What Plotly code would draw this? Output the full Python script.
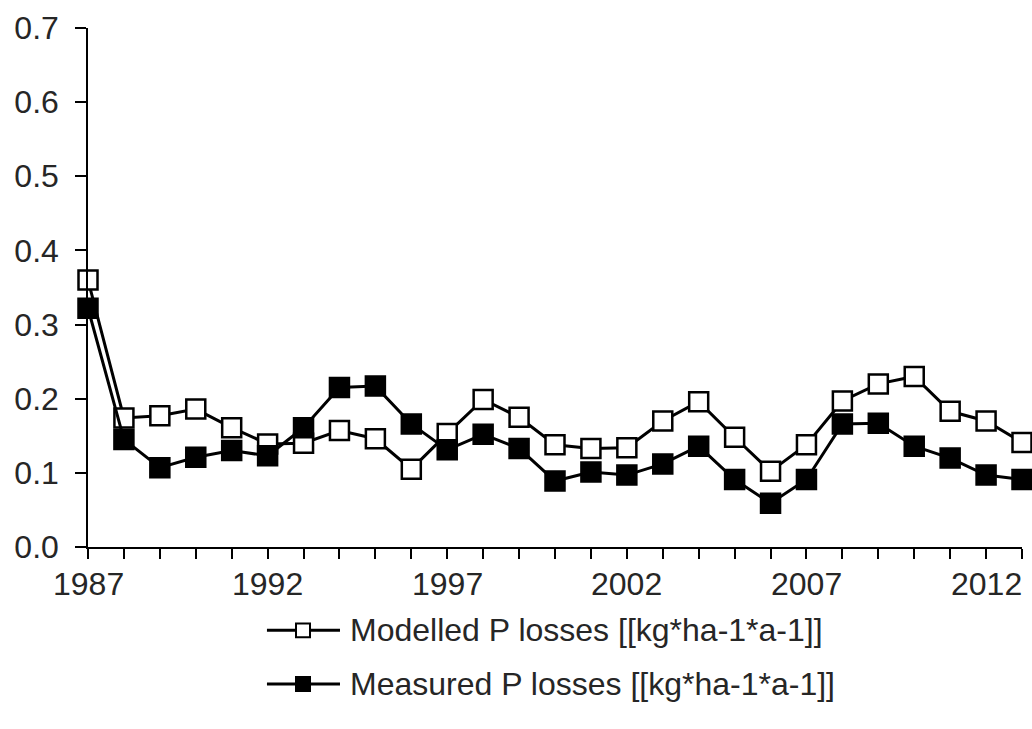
import plotly.graph_objects as go

# Annual phosphorus losses, 1987-2013
years = list(range(1987, 2014))
modelled = [0.360, 0.174, 0.177, 0.186, 0.161, 0.139, 0.140, 0.157, 0.146, 0.105,
            0.153, 0.199, 0.175, 0.138, 0.133, 0.134, 0.170, 0.196, 0.148, 0.102,
            0.138, 0.197, 0.220, 0.230, 0.183, 0.170, 0.141]
measured = [0.322, 0.145, 0.107, 0.121, 0.130, 0.123, 0.161, 0.215, 0.217, 0.166,
            0.131, 0.152, 0.133, 0.089, 0.101, 0.097, 0.112, 0.136, 0.091, 0.059,
            0.091, 0.166, 0.167, 0.136, 0.120, 0.097, 0.091]
series_names = ["Modelled P losses [[kg*ha-1*a-1]]", "Measured P losses [[kg*ha-1*a-1]]"]
x_ticks = [1987, 1992, 1997, 2002, 2007, 2012]
y_ticks = [0.0, 0.1, 0.2, 0.3, 0.4, 0.5, 0.6, 0.7]

FONT = "Liberation Sans, Arial, sans-serif"
TXT = "#262626"
INK = "#000000"

fig = go.Figure()
for name, vals, fill in [(series_names[0], modelled, "#ffffff"),
                         (series_names[1], measured, "#000000")]:
    fig.add_trace(go.Scatter(
        x=years, y=vals, name=name, mode="lines+markers",
        line=dict(color=INK, width=3),
        marker=dict(symbol="square", size=19, color=fill,
                    line=dict(color=INK, width=2.5)),
        cliponaxis=False, showlegend=False,
    ))

# Year labels under the x axis, placed at their data positions
for yr in x_ticks:
    fig.add_annotation(xref="x", yref="paper", x=yr, y=-0.0707,
                       xanchor="center", yanchor="middle", text=str(yr),
                       showarrow=False, font=dict(family=FONT, size=32, color=TXT))

# Hand-built legend below the plot (paper coordinates)
px_w, px_h = 934.0, 523.0
rows = [(-0.1606, "#ffffff"), (-0.2639, "#000000")]
x0, x1, xm = 0.1916, 0.2698, 0.2302
hx, hy = 7.0 / px_w, 7.0 / px_h
for (yy, fill), name in zip(rows, series_names):
    fig.add_shape(type="line", xref="paper", yref="paper",
                  x0=x0, x1=x1, y0=yy, y1=yy, line=dict(color=INK, width=3))
    fig.add_shape(type="rect", xref="paper", yref="paper",
                  x0=xm - hx, x1=xm + hx, y0=yy - hy, y1=yy + hy,
                  fillcolor=fill, line=dict(color=INK, width=2))
    fig.add_annotation(xref="paper", yref="paper", x=0.2784, y=yy,
                       xanchor="left", yanchor="middle", text=name,
                       showarrow=False, font=dict(family=FONT, size=32, color=TXT))

fig.update_layout(
    width=1032, height=729,
    margin=dict(l=88, r=10, t=24, b=182),
    paper_bgcolor="white", plot_bgcolor="white",
    font=dict(family=FONT, size=32, color=TXT),
    showlegend=False,
)
fig.update_xaxes(
    range=[1987, 2013], tickvals=x_ticks, showticklabels=False,
    ticks="outside", ticklen=10, tickwidth=1.5, tickcolor=INK,
    minor=dict(tick0=1987, dtick=1, ticks="outside", ticklen=10, tickwidth=1.5, tickcolor=INK),
    showline=True, linecolor=INK, linewidth=1.5, showgrid=False, zeroline=False,
)
fig.update_yaxes(
    range=[0, 0.7], tickvals=y_ticks, tickformat=".1f",
    ticks="outside", ticklen=11, tickwidth=1.5, tickcolor=INK,
    showline=True, linecolor=INK, linewidth=1.5, showgrid=False, zeroline=False,
    ticklabelstandoff=10,
)

fig.write_html("out.html")
